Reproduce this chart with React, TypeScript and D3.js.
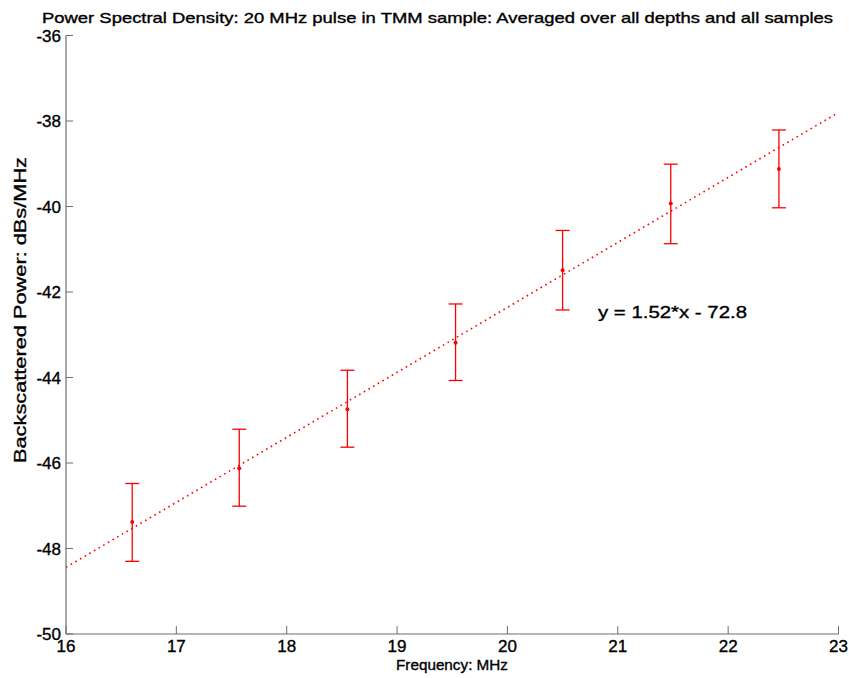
import React from "react";
import * as d3 from "d3";

const freqs = [16.6, 17.57, 18.55, 19.53, 20.5, 21.48, 22.46];
const means = [-47.38, -46.12, -44.74, -43.19, -41.49, -39.93, -39.12];
const upper = [-46.48, -45.21, -43.83, -42.28, -40.56, -39.01, -38.21];
const lower = [-48.3, -47.01, -45.63, -44.07, -42.42, -40.87, -40.03];
const fitSlope = 1.52;
const fitIntercept = -72.76;
const xTicks = [16, 17, 18, 19, 20, 21, 22, 23];
const yTicks = [-36, -38, -40, -42, -44, -46, -48, -50];

const W = 849;
const H = 678;
const FONT = "'Liberation Sans', Arial, sans-serif";

export default function App() {
  const x = d3.scaleLinear().domain([16, 23]).range([66, 838.5]);
  const y = d3.scaleLinear().domain([-50, -36]).range([634, 35.5]);
  const red = "#ff0000";
  const axisColor = "#6e6e6e";
  const fitLine = d3
    .line<number>()
    .x((d) => x(d))
    .y((d) => y(fitSlope * d + fitIntercept));
  const capHalf = 7;
  const heavy = { stroke: "#000", strokeWidth: 0.35 };

  return (
    <svg
      width={W}
      height={H}
      style={{ position: "absolute", left: 0, top: 0, background: "#fff" }}
      fontFamily={FONT}
    >
      <rect x={0} y={0} width={W} height={H} fill="#fff" />
      {/* title */}
      <text
        x={437.5}
        y={23}
        textAnchor="middle"
        fontSize={15}
        textLength={791}
        lengthAdjust="spacingAndGlyphs"
        fill="#000"
        {...heavy}
      >
        Power Spectral Density: 20 MHz pulse in TMM sample: Averaged over all depths and all samples
      </text>

      {/* fit line */}
      <path
        d={fitLine([16, 23]) || ""}
        fill="none"
        stroke={red}
        strokeWidth={1.6}
        strokeDasharray="1.6,3.8"
      />

      {/* error bars */}
      {freqs.map((f, i) => {
        const cx = x(f);
        return (
          <g key={i} stroke={red} strokeWidth={1.3}>
            <line x1={cx} x2={cx} y1={y(upper[i])} y2={y(lower[i])} />
            <line x1={cx - capHalf} x2={cx + capHalf} y1={y(upper[i])} y2={y(upper[i])} />
            <line x1={cx - capHalf} x2={cx + capHalf} y1={y(lower[i])} y2={y(lower[i])} />
            <circle cx={cx} cy={y(means[i])} r={2} fill={red} stroke="none" />
          </g>
        );
      })}

      {/* axes */}
      <line x1={66} x2={838.5} y1={634} y2={634} stroke={axisColor} strokeWidth={1.2} />
      <line x1={66} x2={66} y1={35.5} y2={634} stroke={axisColor} strokeWidth={1.2} />
      {xTicks.map((t) => (
        <g key={"x" + t}>
          <line x1={x(t)} x2={x(t)} y1={634} y2={626} stroke={axisColor} strokeWidth={1} />
          <text x={x(t)} y={652} textAnchor="middle" fontSize={17} fill="#000" {...heavy}>
            {t}
          </text>
        </g>
      ))}
      {yTicks.map((t) => (
        <g key={"y" + t}>
          <line x1={66} x2={73} y1={y(t)} y2={y(t)} stroke={axisColor} strokeWidth={1} />
          <text x={61} y={y(t) + 6} textAnchor="end" fontSize={17} fill="#000" {...heavy}>
            {t}
          </text>
        </g>
      ))}

      {/* axis labels */}
      <text
        x={452}
        y={670}
        textAnchor="middle"
        fontSize={15}
        textLength={112}
        lengthAdjust="spacingAndGlyphs"
        fill="#000"
        {...heavy}
      >
        Frequency: MHz
      </text>
      <text
        transform={`translate(26,310) rotate(-90)`}
        textAnchor="middle"
        fontSize={16}
        textLength={306}
        lengthAdjust="spacingAndGlyphs"
        fill="#000"
        {...heavy}
      >
        Backscattered Power: dBs/MHz
      </text>

      {/* equation */}
      <text
        x={598}
        y={318}
        fontSize={16}
        textLength={149}
        lengthAdjust="spacingAndGlyphs"
        fill="#000"
        {...heavy}
      >
        y = 1.52*x - 72.8
      </text>
    </svg>
  );
}
